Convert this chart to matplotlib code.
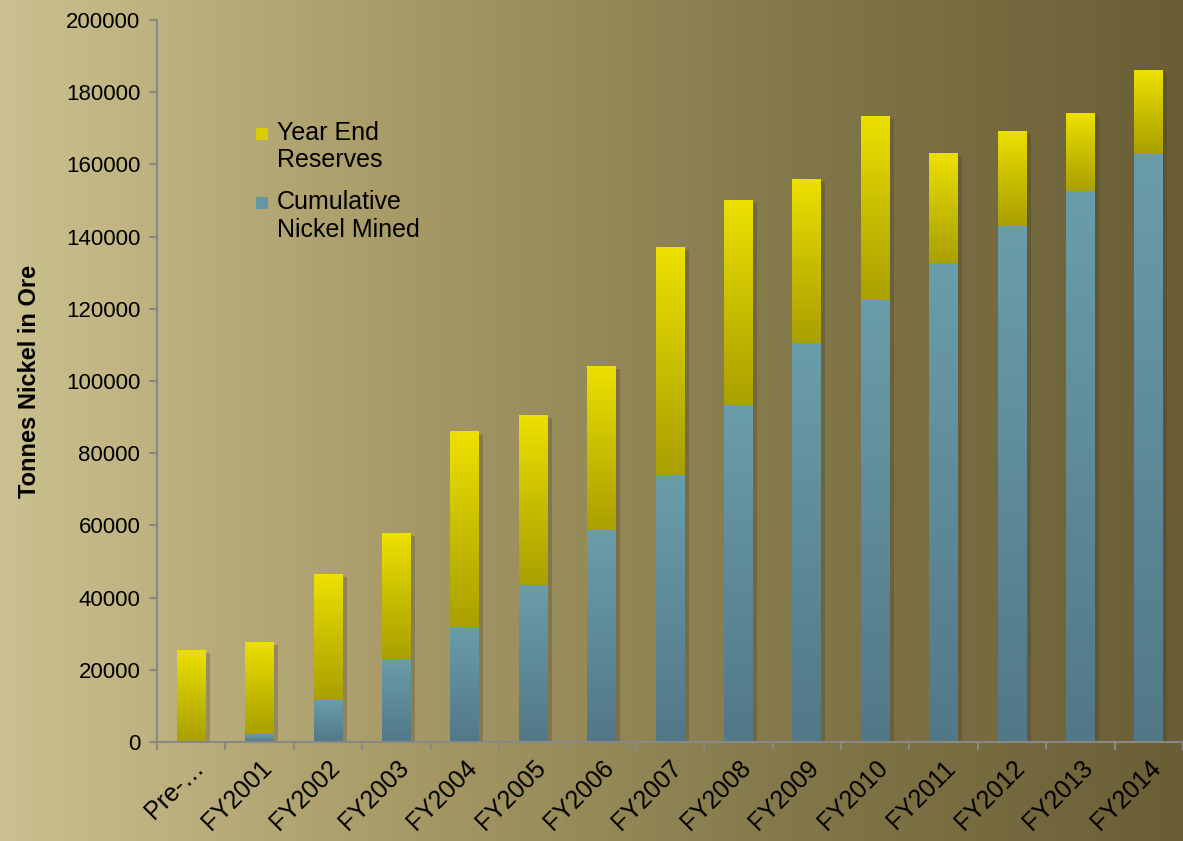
import numpy as np
import matplotlib
matplotlib.use("Agg")
import matplotlib.pyplot as plt
import matplotlib.patheffects as pe
from matplotlib.colors import LinearSegmentedColormap
from matplotlib.patches import Patch, Rectangle
from matplotlib.legend_handler import HandlerPatch

plt.rcParams['font.family'] = ['Liberation Sans', 'DejaVu Sans']

# Data
categories = ['Pre-\u2026', 'FY2001', 'FY2002', 'FY2003', 'FY2004', 'FY2005', 'FY2006',
              'FY2007', 'FY2008', 'FY2009', 'FY2010', 'FY2011', 'FY2012', 'FY2013', 'FY2014']
cumulativeMined = [0, 2200, 11600, 23000, 31900, 43500, 58700, 74000, 93400,
                   110500, 122400, 132700, 142900, 152600, 162900]
totalHeight = [25500, 27700, 46500, 57900, 86100, 90600, 104200, 137100, 150100,
               156000, 173400, 163200, 169300, 174200, 186100]
yearEndReserves = [t - c for t, c in zip(totalHeight, cumulativeMined)]
yTicks = [0, 20000, 40000, 60000, 80000, 100000, 120000, 140000, 160000, 180000, 200000]

figure = plt.figure(figsize=(11.83, 8.41), dpi=100)

# Background gradient across whole figure
bgAx = figure.add_axes([0, 0, 1, 1])
bgAx.set_axis_off()
bgCmap = LinearSegmentedColormap.from_list('bg', ['#cbc08f', '#a89b68', '#837849', '#6a5e36'])
bgAx.imshow(np.linspace(0, 1, 256).reshape(1, -1), aspect='auto', cmap=bgCmap,
            extent=[0, 1, 0, 1])
bgAx.set_xlim(0, 1)
bgAx.set_ylim(0, 1)

ax = figure.add_axes([0.1327, 0.1177, 0.8673, 0.8585])
ax.patch.set_alpha(0)

x = np.arange(len(categories))
width = 0.42
shadow = [pe.SimplePatchShadow(offset=(3, -2), alpha=0.25, shadow_rgbFace='#3a3320'), pe.Normal()]

blueBars = ax.bar(x, cumulativeMined, width, color='#6396a6', zorder=2, path_effects=shadow)
yellowBars = ax.bar(x, yearEndReserves, width, bottom=cumulativeMined, color='#d8cd00',
                    zorder=2, path_effects=shadow)

blueCmap = LinearSegmentedColormap.from_list('blue', ['#527887', '#6a9dab'])
yellowCmap = LinearSegmentedColormap.from_list('yellow', ['#aaa000', '#c9bf00', '#ede100'])

def fillGradient(bars, cmap):
    grad = np.linspace(0, 1, 256).reshape(-1, 1)
    for bar in bars:
        bx, by = bar.get_x(), bar.get_y()
        bw, bh = bar.get_width(), bar.get_height()
        if bh <= 0:
            continue
        im = ax.imshow(grad, aspect='auto', cmap=cmap, origin='lower',
                       extent=[bx, bx + bw, by, by + bh], zorder=2.5)
        im.set_clip_path(bar)

fillGradient(blueBars, blueCmap)
fillGradient(yellowBars, yellowCmap)

ax.set_xlim(-0.5, len(categories) - 0.5)
ax.set_ylim(0, 200000)
ax.set_yticks(yTicks)
ax.set_yticklabels([str(v) for v in yTicks], fontsize=16)

# x ticks at category boundaries, labels at centers
ax.set_xticks(np.arange(-0.5, len(categories), 1.0))
ax.set_xticklabels([])
ax.set_xticks(x, minor=True)
ax.set_xticklabels(categories, minor=True, rotation=45, ha='right', rotation_mode='anchor',
                   fontsize=18)
ax.tick_params(axis='x', which='minor', length=0, pad=10)
ax.tick_params(axis='x', which='major', length=6, color='#888888', width=1.5)
ax.tick_params(axis='y', length=6, color='#888888', width=1.5, pad=6)

for side in ['top', 'right']:
    ax.spines[side].set_visible(False)
for side in ['left', 'bottom']:
    ax.spines[side].set_color('#888888')
    ax.spines[side].set_linewidth(1.5)

ax.set_ylabel('Tonnes Nickel in Ore', fontsize=17, fontweight='bold', labelpad=18)

# legend square sits beside the first text line
def topSquare(legend, orig_handle, xdescent, ydescent, width, height, fontsize):
    sq = 0.5 * fontsize
    return Rectangle((-xdescent, -ydescent + height - sq + 0.12 * fontsize), sq, sq)

handles = [Patch(facecolor='#d8cd00'), Patch(facecolor='#6396a6')]
ax.legend(handles, ['Year End\nReserves', 'Cumulative\nNickel Mined'], loc='upper left',
          bbox_to_anchor=(0.084, 0.878), frameon=False, fontsize=18, handlelength=0.5,
          handleheight=1.75, handletextpad=0.35, labelspacing=0.7, borderpad=0,
          handler_map={Patch: HandlerPatch(patch_func=topSquare)})

figure.savefig('out.png', dpi=100)
